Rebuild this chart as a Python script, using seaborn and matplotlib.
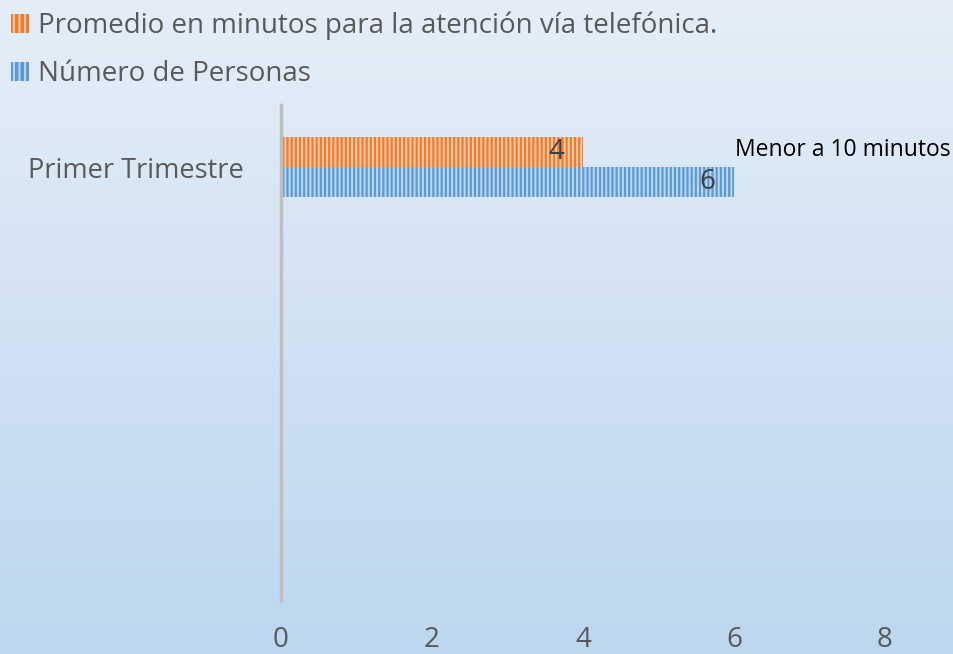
import numpy as np
import pandas as pd
import seaborn as sns
import matplotlib.pyplot as plt
from matplotlib.patches import Patch

# Data
categories = ["Primer Trimestre"]
series_names = ["Promedio en minutos para la atención vía telefónica.", "Número de Personas"]
promedio_minutos = [4]
numero_personas = [6]
x_ticks = [0, 2, 4, 6, 8]
note_text = "Menor a 10 minutos"

colors = ["#ED7D31", "#5B9BD5"]
hatch_colors = ["#F8C9A6", "#BCD7EF"]

df = pd.DataFrame({
    "categoria": categories * 2,
    "serie": [series_names[0]] * len(categories) + [series_names[1]] * len(categories),
    "valor": promedio_minutos + numero_personas,
})

sns.set_theme(style="white")
plt.rcParams["font.family"] = ["Open Sans", "DejaVu Sans"]
plt.rcParams["hatch.linewidth"] = 1.4

fig = plt.figure(figsize=(9.54, 6.54), dpi=100)

# Gradient background over the whole figure
bg = fig.add_axes([0, 0, 1, 1], zorder=0)
grad = np.linspace(0, 1, 256).reshape(-1, 1)
top = np.array([229, 238, 248]) / 255
bottom = np.array([189, 215, 238]) / 255
img = top + (bottom - top) * grad[:, :, None]
bg.imshow(img, aspect="auto", extent=[0, 1, 0, 1])
bg.axis("off")

ax = fig.add_axes([281 / 954, 54 / 654, 604 / 954, 495 / 654], zorder=1)
ax.set_facecolor("none")

sns.barplot(data=df, y="categoria", x="valor", hue="serie", orient="h",
            palette=colors, ax=ax, width=0.8, legend=False, saturation=1)

for container, hc in zip(ax.containers, hatch_colors):
    for bar in container:
        bar.set_hatch("||||")
        bar.set_edgecolor(hc)
        bar.set_linewidth(0)
    ax.bar_label(container, labels=[str(int(b.get_width())) for b in container],
                 label_type="edge", padding=-25, fontsize=20, color="#404040")

ax.set_xlim(0, 8)
ax.set_ylim(5.77, -0.83)
ax.set_xticks(x_ticks)
ax.set_xticklabels([str(t) for t in x_ticks], fontsize=20, color="#595959")
ax.tick_params(axis="x", length=0, pad=19)
ax.tick_params(axis="y", length=0, pad=27, labelsize=19.5, labelcolor="#595959")
ax.set_xlabel("")
ax.set_ylabel("")
for side in ["top", "right", "bottom"]:
    ax.spines[side].set_visible(False)
ax.spines["left"].set_color("#BFBFBF")
ax.spines["left"].set_linewidth(2.5)

ax.text(6.01, -0.23, note_text, fontsize=16.5, color="black", va="center", ha="left",
        clip_on=False)

handles = [Patch(facecolor=c, edgecolor=h, hatch="|||", linewidth=0)
           for c, h in zip(colors, hatch_colors)]
leg = fig.legend(handles, series_names, loc="upper left", bbox_to_anchor=(0.003, 0.995),
                 frameon=False, fontsize=20, handlelength=0.65, handleheight=0.65,
                 handletextpad=0.3, labelspacing=0.72, borderaxespad=0.0, borderpad=0.3)
for t in leg.get_texts():
    t.set_color("#595959")

fig.savefig("out.png", dpi=100)
